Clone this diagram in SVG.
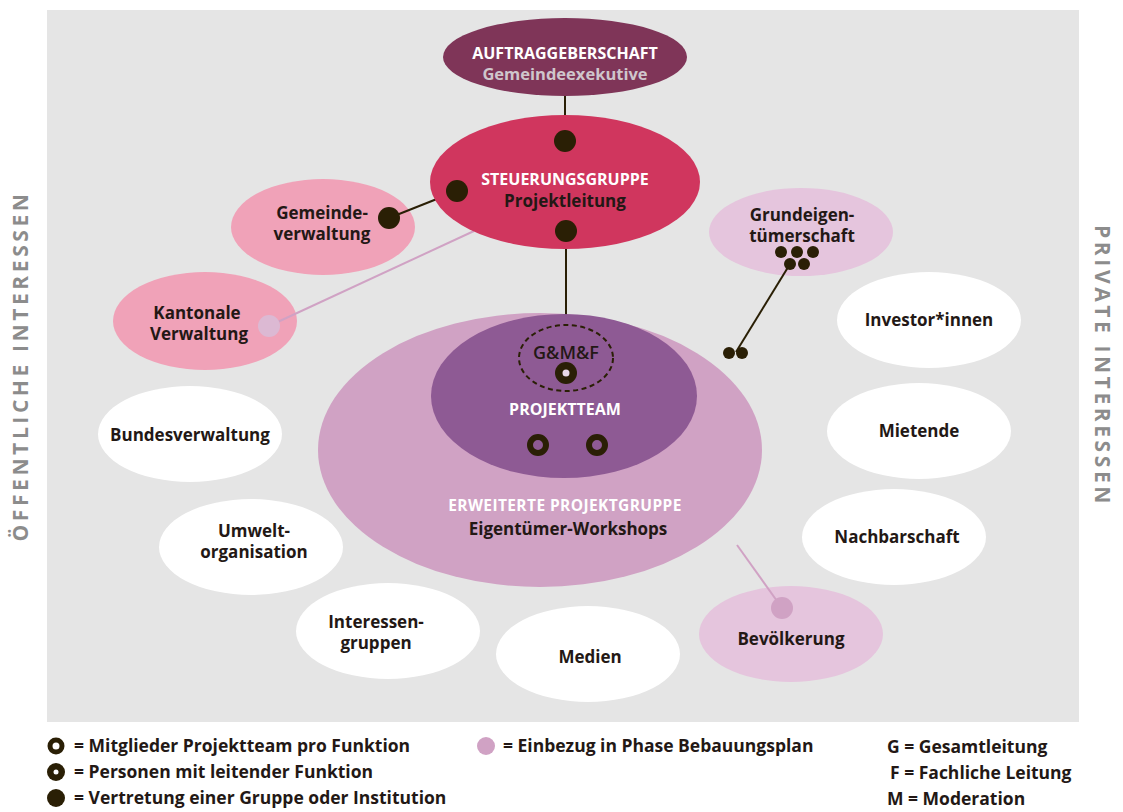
<svg xmlns="http://www.w3.org/2000/svg" width="1123" height="812" viewBox="0 0 1123 812">
<style>
text{font-family:"Open Sans","Noto Sans","Liberation Sans",sans-serif;font-weight:700;text-anchor:middle}
.lbl{font-size:17px;fill:#231815}
.cap{font-size:16px;fill:#fff}
.side{font-size:21px;fill:#8c8c8c;letter-spacing:3.6px}
.leg{font-size:17.5px;fill:#231815;text-anchor:start}
.wh{fill:#fff}
.dk{fill:#2a1f05}
.ring{fill:none;stroke:#2a1f05;stroke-width:6}
</style>
<rect x="47" y="10" width="1032" height="712" fill="#e5e5e5"/>
<text class="side" transform="translate(28,366) rotate(-90)">ÖFFENTLICHE INTERESSEN</text>
<text class="side" transform="translate(1095,366) rotate(90)">PRIVATE INTERESSEN</text>

<g id="erweiterte">
<ellipse cx="540" cy="450" rx="222" ry="137" fill="#d0a2c4"/>
<text class="cap" x="565" y="511" style="font-size:15.5px;letter-spacing:0.4px">ERWEITERTE PROJEKTGRUPPE</text>
<text class="lbl" x="568" y="535">Eigentümer-Workshops</text>
</g>
<g id="gemeindeverwaltung">
<ellipse cx="323" cy="227" rx="92" ry="48" fill="#f0a2b8"/>
<text class="lbl" x="322" y="219">Gemeinde-</text>
<text class="lbl" x="322" y="240">verwaltung</text>
</g>
<g id="kantonale">
<ellipse cx="205" cy="321" rx="92" ry="49" fill="#f0a2b8"/>
<text class="lbl" x="197" y="319">Kantonale</text>
<text class="lbl" x="199" y="340">Verwaltung</text>
</g>
<g id="grundeigentuemer">
<ellipse cx="801" cy="232" rx="92" ry="44" fill="#e5c5dd"/>
<text class="lbl" x="802" y="221">Grundeigen-</text>
<text class="lbl" x="802" y="242">tümerschaft</text>
</g>
<g id="investoren"><ellipse cx="929" cy="320" rx="92" ry="48" class="wh"/><text class="lbl" x="929" y="326">Investor*innen</text></g>
<g id="mietende"><ellipse cx="919" cy="431" rx="92" ry="48" class="wh"/><text class="lbl" x="919" y="437">Mietende</text></g>
<g id="nachbarschaft"><ellipse cx="894" cy="537" rx="92" ry="48" class="wh"/><text class="lbl" x="897" y="543">Nachbarschaft</text></g>
<g id="bevoelkerung"><ellipse cx="791" cy="634" rx="92" ry="48" fill="#e5c5dd"/><text class="lbl" x="791" y="645">Bevölkerung</text></g>
<g id="medien"><ellipse cx="588" cy="654" rx="92" ry="48" class="wh"/><text class="lbl" x="590" y="663">Medien</text></g>
<g id="interessengruppen"><ellipse cx="388" cy="631" rx="92" ry="48" class="wh"/><text class="lbl" x="376" y="628">Interessen-</text><text class="lbl" x="376" y="649">gruppen</text></g>
<g id="umwelt"><ellipse cx="251" cy="547" rx="92" ry="48" class="wh"/><text class="lbl" x="254" y="537">Umwelt-</text><text class="lbl" x="254" y="558">organisation</text></g>
<g id="bundesverwaltung"><ellipse cx="190" cy="434" rx="92" ry="48" class="wh"/><text class="lbl" x="190" y="441">Bundesverwaltung</text></g>

<g id="connectors">
<line x1="565" y1="96" x2="565" y2="141" stroke="#2a1f05" stroke-width="2"/>
<line x1="389" y1="218" x2="457" y2="191" stroke="#2a1f05" stroke-width="2"/>
<line x1="269" y1="326" x2="474" y2="231" stroke="#d0a2c4" stroke-width="2"/>
<line x1="566" y1="231" x2="566" y2="325" stroke="#2a1f05" stroke-width="2"/>
<line x1="790" y1="264" x2="736" y2="352" stroke="#2a1f05" stroke-width="2"/>
<line x1="782" y1="608" x2="737" y2="545" stroke="#d0a2c4" stroke-width="2"/>
</g>

<g id="steuerungsgruppe">
<ellipse cx="565" cy="182" rx="135" ry="67" fill="#d0365e"/>
<text class="cap" x="565" y="185">STEUERUNGSGRUPPE</text>
<text class="lbl" x="565" y="207">Projektleitung</text>
<circle cx="565" cy="141" r="11" class="dk"/>
<circle cx="457" cy="191" r="11" class="dk"/>
<circle cx="566" cy="231" r="11" class="dk"/>
</g>
<g id="auftraggeberschaft">
<ellipse cx="565" cy="57" rx="122" ry="39" fill="#7f3558"/>
<text class="cap" x="565" y="59">AUFTRAGGEBERSCHAFT</text>
<text x="565" y="80" style="font-size:16.5px;fill:#cfc6cc">Gemeindeexekutive</text>
</g>
<g id="projektteam">
<ellipse cx="564" cy="396" rx="133" ry="82" fill="#8e5a94"/>
<ellipse cx="566" cy="358" rx="47" ry="33" fill="none" stroke="#2a1f05" stroke-width="2" stroke-dasharray="5 3.5"/>
<text x="566" y="359" style="font-size:18px;fill:#231815;font-weight:600">G&amp;M&amp;F</text>
<circle cx="566" cy="373" r="11" class="dk"/>
<circle cx="566" cy="373" r="3.5" fill="#e8d8e6"/>
<text class="cap" x="565" y="415">PROJEKTTEAM</text>
<circle cx="538" cy="445" r="8" class="ring"/>
<circle cx="597" cy="445" r="8" class="ring"/>
</g>
<g id="dots">
<circle cx="269" cy="326" r="11" fill="#dcb9d3"/>
<circle cx="389" cy="218" r="11" class="dk"/>
<circle cx="781" cy="252" r="6" class="dk"/>
<circle cx="797" cy="252" r="6" class="dk"/>
<circle cx="813" cy="252" r="6" class="dk"/>
<circle cx="790" cy="264" r="6" class="dk"/>
<circle cx="804" cy="264" r="6" class="dk"/>
<circle cx="729" cy="353" r="6" class="dk"/>
<circle cx="742" cy="353" r="6" class="dk"/>
<circle cx="782" cy="608" r="11" fill="#d0a2c4"/>
</g>

<g id="legend">
<circle cx="56" cy="746" r="6" class="ring" style="stroke-width:5"/>
<text class="leg" x="74" y="752">= Mitglieder Projektteam pro Funktion</text>
<circle cx="56" cy="772" r="9" class="dk"/>
<circle cx="56" cy="772" r="2.5" fill="#fff"/>
<text class="leg" x="74" y="778">= Personen mit leitender Funktion</text>
<circle cx="56" cy="798" r="9" class="dk"/>
<text class="leg" x="74" y="804">= Vertretung einer Gruppe oder Institution</text>
<circle cx="486" cy="746" r="9" fill="#d0a2c4"/>
<text class="leg" x="503" y="752">= Einbezug in Phase Bebauungsplan</text>
<text class="leg" x="887" y="753">G = Gesamtleitung</text>
<text class="leg" x="890" y="779">F = Fachliche Leitung</text>
<text class="leg" x="887" y="805">M = Moderation</text>
</g>
</svg>
